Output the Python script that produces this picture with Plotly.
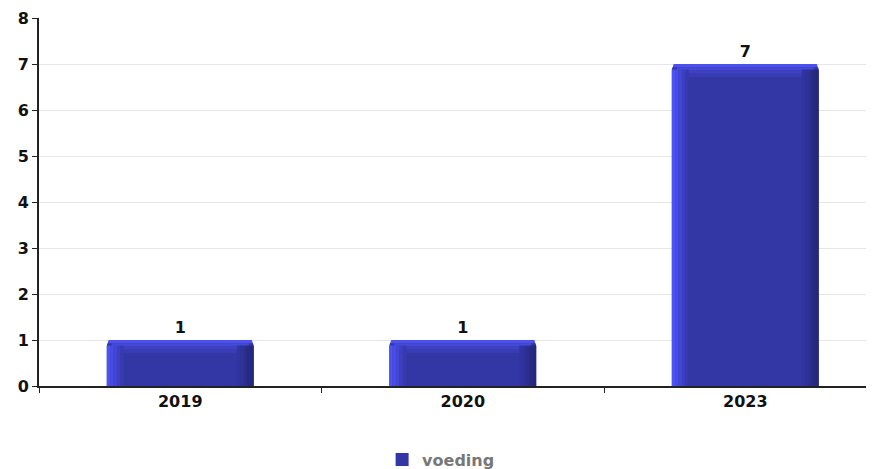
import plotly.graph_objects as go

categories = ["2019", "2020", "2023"]
values = [1, 1, 7]
series_name = "voeding"
y_ticks = [0, 1, 2, 3, 4, 5, 6, 7, 8]

MAIN = "#3337a5"
FONT = "DejaVu Sans"
FS = 16

fig = go.Figure()

BAR_W = 0.52
# main bar
fig.add_trace(go.Bar(
    x=categories, y=values, name=series_name, width=BAR_W,
    marker=dict(color=MAIN, line=dict(width=0), cornerradius=6),
    text=[str(v) for v in values], textposition="outside",
    textfont=dict(family=FONT, size=FS, color="#111111", weight="bold"),
    cliponaxis=False, hoverinfo="x+y", showlegend=False,
))

# bevel strips (gradient simulation) drawn from same data
top_cols = ["#4c50ec", "#4549d6", "#3e42c2", "#383cb2"]
band = 0.07
for i, c in enumerate(top_cols):
    fig.add_trace(go.Bar(
        x=categories, y=[band] * len(values), base=[v - band * (i + 1) for v in values],
        width=BAR_W - 0.01 - 0.025 * i,
        marker=dict(color=c, line=dict(width=0), cornerradius=4 if i == 0 else 0),
        showlegend=False, hoverinfo="skip",
    ))

left_cols = ["#4d52f6", "#484ce6", "#4246d3", "#3c40c0", "#373aae"]
right_cols = ["#3134a0", "#2e3196", "#2b2e8c", "#282a82", "#25277a"]
sw = 0.012
for i, c in enumerate(left_cols):
    fig.add_trace(go.Bar(
        x=categories, y=[v - 0.12 for v in values], width=sw,
        offset=-BAR_W / 2 + i * sw,
        marker=dict(color=c, line=dict(width=0)),
        showlegend=False, hoverinfo="skip",
    ))
for i, c in enumerate(right_cols):
    fig.add_trace(go.Bar(
        x=categories, y=[v - 0.12 for v in values], width=sw,
        offset=BAR_W / 2 - (len(right_cols) - i) * sw,
        marker=dict(color=c, line=dict(width=0)),
        showlegend=False, hoverinfo="skip",
    ))

# legend entry
fig.add_trace(go.Scatter(
    x=[None], y=[None], mode="markers", name=series_name,
    marker=dict(symbol="square", size=13, color=MAIN), showlegend=True,
))

fig.update_layout(
    width=874, height=469,
    margin=dict(l=31, r=0, t=10, b=87),
    plot_bgcolor="white", paper_bgcolor="white",
    barmode="overlay",
    font=dict(family=FONT, size=FS, color="#111111", weight="bold"),
    legend=dict(orientation="h", x=0.477, xanchor="center", y=-0.2, yanchor="middle",
                font=dict(family=FONT, size=FS, color="#777777", weight="bold")),
    xaxis=dict(
        type="category", categoryorder="array", categoryarray=categories,
        range=[-0.5, 2.484], showline=True, linecolor="#222222", linewidth=2,
        ticks="outside", ticklen=5, tickcolor="#222222", tickson="boundaries",
        tickfont=dict(family=FONT, size=FS, color="#111111", weight="bold"),
        showgrid=False, fixedrange=True, automargin=False,
    ),
    yaxis=dict(
        range=[0, 8], tickvals=y_ticks, showline=True, linecolor="#222222", linewidth=2,
        ticks="outside", ticklen=5, tickcolor="#222222",
        gridcolor="#e6e6e6", gridwidth=1, zeroline=False, automargin=False,
        tickfont=dict(family=FONT, size=FS, color="#111111", weight="bold"),
    ),
)
fig.write_html("out.html")
